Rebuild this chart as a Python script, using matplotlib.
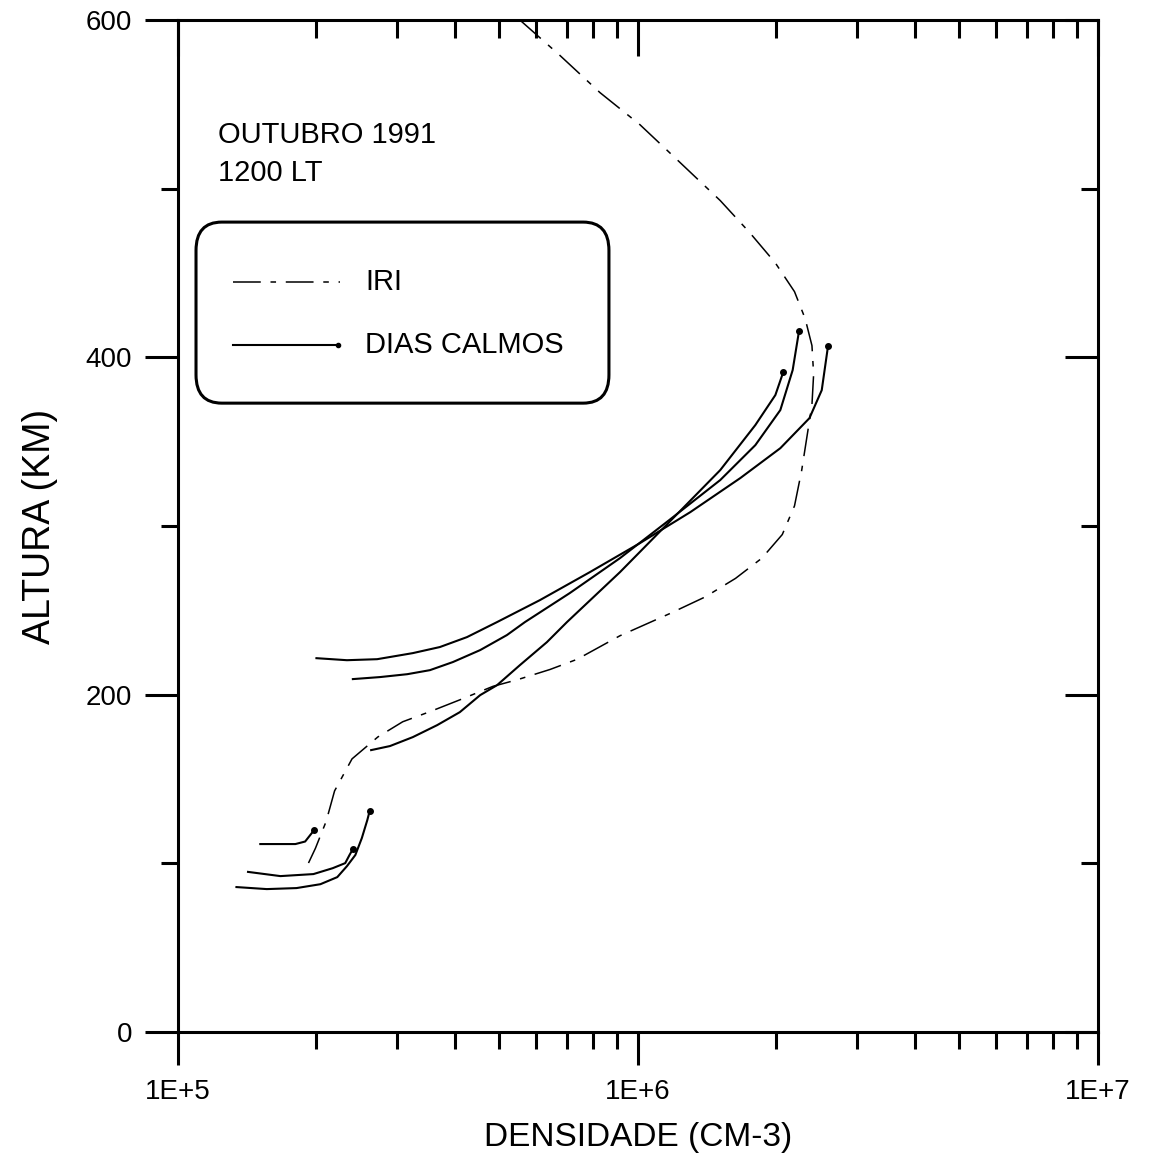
import matplotlib
matplotlib.use("Agg")
import matplotlib.pyplot as plt
from matplotlib.patches import FancyBboxPatch
from matplotlib.lines import Line2D

plt.rcParams['font.family'] = ['Liberation Sans', 'DejaVu Sans']
plt.rcParams['lines.scale_dashes'] = False

# IRI model profile (density cm-3, altitude km)
iri_dens = [5.54e5, 6.77e5, 8.27e5, 1.01e6, 1.23e6, 1.51e6, 1.75e6, 1.99e6, 2.19e6,
            2.31e6, 2.39e6, 2.41e6, 2.39e6, 2.34e6, 2.27e6, 2.19e6, 2.06e6, 1.86e6,
            1.63e6, 1.40e6, 1.17e6, 9.14e5, 7.37e5, 6.44e5, 5.48e5, 4.84e5, 4.10e5,
            3.53e5, 3.08e5, 2.72e5, 2.39e5, 2.19e5, 2.10e5, 1.99e5, 1.92e5]
iri_alt = [600, 579, 557, 538, 516, 493, 474, 456, 439,
           423, 407, 390, 372, 356, 333, 312, 295, 281,
           269, 258, 248, 235, 221, 215, 209, 205, 197,
           190, 184, 175, 162, 143, 125, 109, 100]

# quiet days, F region
f1_dens = [2.00e5, 2.33e5, 2.71e5, 3.24e5, 3.71e5, 4.25e5, 4.94e5, 6.12e5, 7.86e5,
           1.01e6, 1.30e6, 1.67e6, 2.04e6, 2.36e6, 2.51e6, 2.59e6]
f1_alt = [221.7, 220.5, 221.1, 224.7, 228.3, 234.2, 243.1, 256.1, 272.7,
          289.9, 308.3, 328.5, 346.2, 364.0, 380.6, 406.7]

f2_dens = [2.40e5, 2.75e5, 3.15e5, 3.53e5, 3.96e5, 4.54e5, 5.19e5, 5.68e5, 7.11e5,
           9.14e5, 1.17e6, 1.51e6, 1.80e6, 2.04e6, 2.17e6, 2.24e6]
f2_alt = [209.3, 210.5, 212.2, 214.6, 219.4, 226.5, 235.4, 243.1, 260.3,
          281.0, 303.6, 327.3, 348.0, 368.8, 392.5, 415.6]

f3_dens = [2.63e5, 2.89e5, 3.24e5, 3.66e5, 4.10e5, 4.54e5, 4.94e5, 5.54e5, 6.34e5,
           7.01e5, 9.14e5, 1.17e6, 1.51e6, 1.80e6, 1.99e6, 2.07e6]
f3_alt = [167.2, 169.6, 174.9, 182.0, 189.7, 199.8, 205.7, 217.6, 231.2,
          243.1, 272.7, 302.4, 333.2, 359.9, 377.7, 391.3]

# quiet days, E region
e1_dens = [1.51e5, 1.80e5, 1.89e5, 1.98e5]
e1_alt = [111.5, 111.5, 113.0, 120.0]

e2_dens = [1.42e5, 1.67e5, 1.97e5, 2.17e5, 2.31e5, 2.36e5, 2.40e5]
e2_alt = [95.0, 92.5, 93.7, 97.2, 100.2, 105.0, 108.5]

e3_dens = [1.34e5, 1.56e5, 1.81e5, 2.04e5, 2.22e5, 2.33e5, 2.43e5, 2.51e5, 2.58e5, 2.61e5]
e3_alt = [86.0, 84.8, 85.4, 87.7, 91.9, 98.4, 105.0, 115.0, 125.7, 131.0]

quiet = [(f1_dens, f1_alt), (f2_dens, f2_alt), (f3_dens, f3_alt),
         (e1_dens, e1_alt), (e2_dens, e2_alt), (e3_dens, e3_alt)]

x_major = [1e5, 1e6, 1e7]
x_major_labels = ['1E+5', '1E+6', '1E+7']
x_minor = [k * 10.0 ** e for e in (5, 6) for k in range(2, 10)]
y_major = [0, 200, 400, 600]
y_minor = [100, 300, 500]

iri_dash = (0, (20, 7, 4, 7))

fig = plt.figure(figsize=(11.52, 11.61), dpi=100)
ax = fig.add_axes([0.1545, 0.111, 0.7985, 0.8717])

ax.plot(iri_dens, iri_alt, color='black', lw=1.1, linestyle=iri_dash)
for d, a in quiet:
    ax.plot(d, a, color='black', lw=1.5, marker='o', markersize=4, markevery=[-1])

ax.set_xscale('log')
ax.set_xlim(1e5, 1e7)
ax.set_ylim(0, 600)

ax.set_xticks(x_major)
ax.set_xticklabels(x_major_labels)
ax.set_xticks(x_minor, minor=True)
ax.set_xticklabels([], minor=True)
ax.set_yticks(y_major)
ax.set_yticks(y_minor, minor=True)

ax.tick_params(axis='both', which='both', direction='out', width=2.2, labelsize=20)
ax.tick_params(axis='both', which='major', length=24, pad=10)
ax.tick_params(axis='both', which='minor', length=12)
ax.tick_params(axis='y', which='major', pad=9)

for s in ax.spines.values():
    s.set_linewidth(2.2)

# top ticks pointing inwards
axt = ax.twiny()
axt.set_xscale('log')
axt.set_xlim(1e5, 1e7)
axt.set_xticks(x_major)
axt.set_xticks(x_minor, minor=True)
axt.tick_params(axis='x', which='both', direction='in', width=2.2, labeltop=False)
axt.tick_params(axis='x', which='major', length=26)
axt.tick_params(axis='x', which='minor', length=13)
for s in axt.spines.values():
    s.set_visible(False)

# right ticks pointing inwards
axr = ax.twinx()
axr.set_ylim(0, 600)
axr.set_yticks(y_major)
axr.set_yticks(y_minor, minor=True)
axr.tick_params(axis='y', which='both', direction='in', width=2.2, labelright=False)
axr.tick_params(axis='y', which='major', length=24)
axr.tick_params(axis='y', which='minor', length=12)
for s in axr.spines.values():
    s.set_visible(False)

ax.set_xlabel('DENSIDADE (CM-3)', fontsize=24, labelpad=12)
ax.set_ylabel('ALTURA (KM)', fontsize=27, labelpad=20)

ax.text(0.0435, 0.886, 'OUTUBRO 1991', transform=ax.transAxes, fontsize=21,
        ha='left', va='center')
ax.text(0.0435, 0.849, '1200 LT', transform=ax.transAxes, fontsize=21,
        ha='left', va='center')

# legend box
box = FancyBboxPatch((0.0196, 0.6215), 0.4489, 0.1789, transform=ax.transAxes,
                     boxstyle='round,pad=0,rounding_size=0.028', fc='none',
                     ec='black', lw=2.2, mutation_aspect=1.0)
ax.add_patch(box)
ax.add_line(Line2D([0.0598, 0.176], [0.741, 0.741], transform=ax.transAxes,
                   color='black', lw=1.1, linestyle=iri_dash))
ax.add_line(Line2D([0.0598, 0.174], [0.679, 0.679], transform=ax.transAxes,
                   color='black', lw=1.5, marker='o', markersize=3, markevery=[-1]))
ax.text(0.2033, 0.741, 'IRI', transform=ax.transAxes, fontsize=21, ha='left', va='center')
ax.text(0.2033, 0.679, 'DIAS CALMOS', transform=ax.transAxes, fontsize=21,
        ha='left', va='center')

fig.savefig('out.png', dpi=100)
